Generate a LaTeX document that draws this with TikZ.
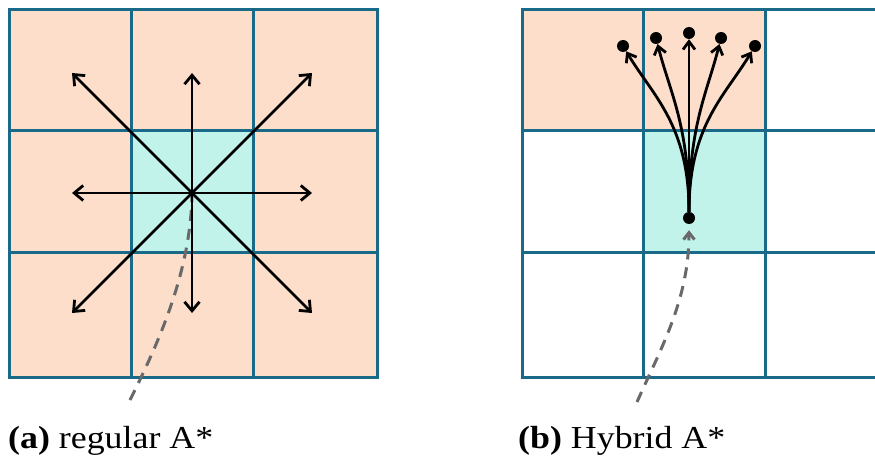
\documentclass[tikz,border=0pt]{standalone}
\usepackage{fontspec}
\setmainfont{Liberation Serif}
\usepackage{graphicx}
\usetikzlibrary{arrows.meta}
\definecolor{peach}{RGB}{252,222,202}
\definecolor{aqua}{RGB}{194,243,234}
\definecolor{gridc}{RGB}{24,106,136}
\definecolor{dashc}{RGB}{105,105,105}
\begin{document}
\begin{tikzpicture}[x=1pt,y=-1pt,
  gridline/.style={draw=gridc,line width=3pt,line cap=rect},
  movearrow/.style={line width=2.8pt,-{Straight Barb[length=9pt,width=15pt]}},
  fanarrow/.style={line width=2.8pt,-{Straight Barb[length=8pt,width=12pt]}},
  pathdash/.style={draw=dashc,line width=3pt,dash pattern=on 11pt off 8pt},
  dot/.style={circle,fill=black,inner sep=0pt,minimum size=12pt},
  caption/.style={anchor=base west,inner sep=0pt,font=\fontsize{32}{38}\selectfont}]
\useasboundingbox (0,0) rectangle (875,457);

% ---------- (a) regular A* ----------
\fill[peach] (9,10) rectangle (377.5,377);
\fill[aqua] (131.5,131) rectangle (253.5,252.5);
\foreach \x in {9,131.5,253.5,377.5} \draw[gridline] (\x,10) -- (\x,377);
\foreach \y in {10,131,252.5,377} \draw[gridline] (9,\y) -- (377.5,\y);

\coordinate (ca) at (192,193);
\coordinate (ta) at (130,400);
\draw[pathdash] (ta) .. controls (160,340) and (191,270) .. (ca);

\coordinate (an) at (192,73);
\coordinate (as) at (192,313);
\coordinate (ae) at (312,193);
\coordinate (aw) at (72,193);
\coordinate (ane) at (312,73);
\coordinate (anw) at (72,73);
\coordinate (ase) at (312,313);
\coordinate (asw) at (72,313);
\foreach \t in {an,as,ae,aw,ane,anw,ase,asw}
  \draw[movearrow] (ca) -- (\t);

% ---------- (b) Hybrid A* ----------
\fill[peach] (522,10) rectangle (765,131);
\fill[aqua] (643.3,131) rectangle (765,252.5);
\foreach \x in {522,643.3,765} \draw[gridline] (\x,10) -- (\x,377);
\foreach \y in {10,131,252.5,377} \draw[gridline] (522,\y) -- (880,\y);

\node[dot] (s) at (689,218) {};
\node[dot] (e1) at (623,46) {};
\node[dot] (e2) at (656,38) {};
\node[dot] (e3) at (689,33) {};
\node[dot] (e4) at (721,38) {};
\node[dot] (e5) at (755,46) {};

\coordinate (tb) at (637,402);
\draw[pathdash,shorten >=6pt,-{Straight Barb[length=7pt,width=11pt]}]
  (tb) .. controls (660,350) and (689,300) .. (s);

\draw[fanarrow] (s) .. controls (689,125) and (653,96) .. (e1);
\draw[fanarrow] (s) .. controls (689,125) and (670,93) .. (e2);
\draw[fanarrow] (s) -- (e3);
\draw[fanarrow] (s) .. controls (689,125) and (707,93) .. (e4);
\draw[fanarrow] (s) .. controls (689,125) and (725,96) .. (e5);

% ---------- captions ----------
\node[caption] (capa) at (8,448) {\scalebox{1.12}[1]{\textbf{(a)} regular A*}};
\node[caption] (capb) at (518,448) {\scalebox{1.12}[1]{\textbf{(b)} Hybrid A*}};
\end{tikzpicture}
\end{document}
